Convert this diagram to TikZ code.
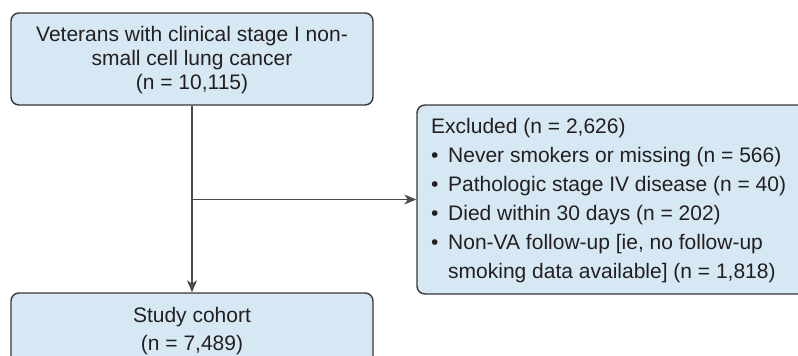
\documentclass[tikz,border=0pt]{standalone}
\usepackage{fontspec}
\setmainfont{Liberation Sans}
\usetikzlibrary{arrows.meta}
\definecolor{boxfill}{RGB}{214,232,244}
\definecolor{boxline}{RGB}{55,55,55}
\definecolor{txt}{RGB}{35,31,32}
\definecolor{conn}{RGB}{75,75,75}
\begin{document}
\begin{tikzpicture}[x=1pt,y=-1pt,
  box/.style={draw=boxline,fill=boxfill,line width=1.4pt,rounded corners=8pt,inner sep=0pt},
  lbl/.style={inner sep=0pt,text=txt,font=\fontsize{21}{24}\selectfont},
  conn/.style={draw=conn,line width=1.4pt},
  arr/.style={conn,-{Stealth[length=12pt,width=10pt,inset=3.5pt]}}]
\useasboundingbox (0,0) rectangle (798,356);
% boxes
\node[box,minimum width=362pt,minimum height=92pt] (top) at (192,59) {};
\node[box,minimum width=394pt,minimum height=189pt] (ex) at (614,199.5) {};
\node[box,minimum width=362pt,minimum height=92pt] (bot) at (192,339) {};
% top text
\node[lbl,anchor=base] (t1) at (192,41) {Veterans with clinical stage I non-};
\node[lbl,anchor=base] (t2) at (192,65) {small cell lung cancer};
\node[lbl,anchor=base] (t3) at (192,89) {(n = 10,115)};
% excluded text
\node[lbl,anchor=base west] (e0) at (431,133) {Excluded (n = 2,626)};
\node[lbl,anchor=base west] (b1) at (431,162) {•};
\node[lbl,anchor=base west] (e1) at (448,162) {Never smokers or missing (n = 566)};
\node[lbl,anchor=base west] (b2) at (431,191) {•};
\node[lbl,anchor=base west] (e2) at (448,191) {Pathologic stage IV disease (n = 40)};
\node[lbl,anchor=base west] (b3) at (431,220) {•};
\node[lbl,anchor=base west] (e3) at (448,220) {Died within 30 days (n = 202)};
\node[lbl,anchor=base west] (b4) at (431,249) {•};
\node[lbl,anchor=base west] (e4) at (448,249) {Non-VA follow-up [ie, no follow-up};
\node[lbl,anchor=base west] (e5) at (448,278) {smoking data available] (n = 1,818)};
% bottom text
\node[lbl,anchor=base] (s1) at (192,322) {Study cohort};
\node[lbl,anchor=base] (s2) at (192,350) {(n = 7,489)};
% connectors
\coordinate (br) at (top.south |- ex.west);
\draw[arr] (top.south) -- (bot.north);
\draw[arr] (br) -- (ex.west);
\end{tikzpicture}
\end{document}
